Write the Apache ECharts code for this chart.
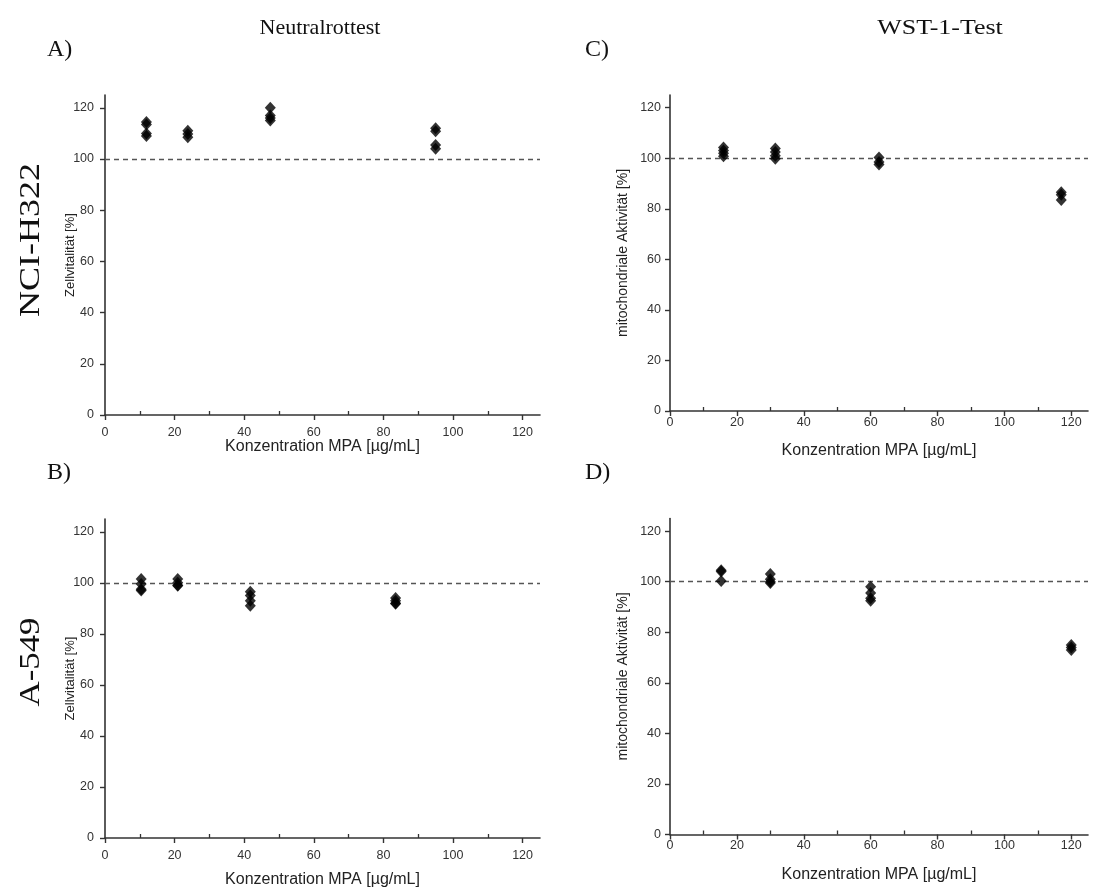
<!DOCTYPE html>
<html><head><meta charset="utf-8">
<script src="https://cdn.jsdelivr.net/npm/echarts@6/dist/echarts.min.js"></script>
<style>html,body{margin:0;padding:0;background:#fff}#c{width:1097px;height:889px}</style>
</head><body><div id="c"></div>
<script>
// ---- data ----
var concA = [11.9, 23.8, 47.5, 95];
var valA = [[114.5, 113.5, 110, 109], [111, 109.8, 108.5], [120, 117, 116, 115], [112, 110.8, 105.5, 104]];
var concB = [10.4, 20.9, 41.75, 83.5];
var valB = [[101.5, 99.5, 97.5, 97], [101.5, 100, 99, 98.8], [96.5, 95, 93, 91], [94, 93, 92, 91.8]];
var concC = [16, 31.5, 62.5, 117];
var valC = [[104.2, 103, 102, 100.8], [103.8, 102.5, 101, 99.8], [100.3, 98.5, 97.5], [86.5, 85.5, 83.5]];
var concD = [15.3, 30, 60, 120];
var valD = [[104.5, 104, 100.3], [103, 101, 100, 99.5], [98, 95.5, 93.5, 92.5], [75, 74, 73]];
var tickValues = [0, 20, 40, 60, 80, 100, 120];
var minorValues = [10, 30, 50, 70, 90, 110];
var xName = 'Konzentration MPA [µg/mL]';
var yNameLeft = 'Zellvitalität [%]';
var yNameRight = 'mitochondriale Aktivität [%]';
var colTitles = ['Neutralrottest', 'WST-1-Test'];
var rowTitles = ['NCI-H322', 'A-549'];
var panelLabels = ['A)', 'C)', 'B)', 'D)'];

function pts(conc, vals) {
  var out = [];
  conc.forEach(function (c, i) { vals[i].forEach(function (v) { out.push([c, v]); }); });
  return out;
}

// panel order: A, C, B, D
var grids = [
  {left: 105, top: 95, width: 435, height: 320},
  {left: 670, top: 95, width: 418, height: 316},
  {left: 105, top: 519, width: 435, height: 319},
  {left: 670, top: 518.5, width: 418, height: 316}
];
var panelData = [pts(concA, valA), pts(concC, valC), pts(concB, valB), pts(concD, valD)];
var yNames = [yNameLeft, yNameRight, yNameLeft, yNameRight];
var yGaps = [28, 40, 28, 40];
var yNameSizes = [13, 14, 13, 14];
var yMargins = [11, 9, 11, 9];
var xMargins = [11, 5, 11, 5];
var xGaps = [24, 32, 34, 32];

var axisColor = '#333';
var font = 'Liberation Sans, Arial, sans-serif';
var xAxes = [], yAxes = [], series = [];
grids.forEach(function (g, i) {
  xAxes.push({
    gridIndex: i, type: 'value', min: 0, max: 125, interval: 10,
    name: xName, nameLocation: 'middle', nameGap: xGaps[i], nameMoveOverlap: false,
    nameTextStyle: {fontFamily: font, fontSize: 16, color: '#222'},
    axisLine: {show: true, onZero: false, lineStyle: {color: axisColor, width: 1.6}},
    axisTick: {show: true, length: 5, customValues: tickValues, lineStyle: {color: axisColor, width: 1.4}},
    axisLabel: {customValues: tickValues, fontFamily: font, fontSize: 12.5, color: '#333', margin: xMargins[i]},
    splitLine: {show: false}
  });
  xAxes.push({
    gridIndex: i, type: 'value', min: 0, max: 125, position: 'bottom',
    axisLine: {show: false},
    axisTick: {show: true, inside: true, length: 4, customValues: minorValues, lineStyle: {color: axisColor, width: 1.3}},
    axisLabel: {show: false}, splitLine: {show: false}
  });
  yAxes.push({
    gridIndex: i, type: 'value', min: 0, max: 125, interval: 5,
    name: yNames[i], nameLocation: 'middle', nameGap: yGaps[i], nameRotate: 90, nameMoveOverlap: false,
    nameTextStyle: {fontFamily: font, fontSize: yNameSizes[i], color: '#222'},
    axisLine: {show: true, onZero: false, lineStyle: {color: axisColor, width: 1.6}},
    axisTick: {show: true, length: 5, customValues: tickValues, lineStyle: {color: axisColor, width: 1.4}},
    axisLabel: {customValues: tickValues, fontFamily: font, fontSize: 12.5, color: '#333', margin: yMargins[i]},
    splitLine: {show: false}
  });
  series.push({
    type: 'scatter', xAxisIndex: i * 2, yAxisIndex: i,
    symbol: 'diamond', symbolSize: [11, 12],
    itemStyle: {color: '#000'},
    data: panelData[i],
    markLine: {
      silent: true, symbol: 'none', label: {show: false},
      lineStyle: {color: '#555', type: [5, 4], width: 1.3},
      data: [{yAxis: 100}]
    },
    z: 5
  });
});

var serif = 'Liberation Serif, DejaVu Serif, serif';
function txt(s, x, y, size, rot, sx) {
  var o = {type: 'text', x: x, y: y, style: {text: s, font: size + 'px ' + serif, fill: '#111', textAlign: 'center', textVerticalAlign: 'middle'}};
  if (rot) o.rotation = rot;
  if (sx) o.scaleX = sx;
  return o;
}
var graphics = [
  txt(colTitles[0], 320, 28, 22),
  txt(colTitles[1], 940, 28, 22, 0, 1.18),
  {type: 'text', x: 47, y: 50, style: {text: panelLabels[0], font: '24px ' + serif, fill: '#111', textVerticalAlign: 'middle'}},
  {type: 'text', x: 585, y: 50, style: {text: panelLabels[1], font: '24px ' + serif, fill: '#111', textVerticalAlign: 'middle'}},
  {type: 'text', x: 47, y: 473, style: {text: panelLabels[2], font: '24px ' + serif, fill: '#111', textVerticalAlign: 'middle'}},
  {type: 'text', x: 585, y: 473, style: {text: panelLabels[3], font: '24px ' + serif, fill: '#111', textVerticalAlign: 'middle'}},
  txt(rowTitles[0], 31, 240, 30, Math.PI / 2, 1.2),
  txt(rowTitles[1], 31, 662, 30, Math.PI / 2, 1.16)
];

var chart = echarts.init(document.getElementById('c'), null, {renderer: 'canvas'});
chart.setOption({
  backgroundColor: '#fff',
  animation: false,
  grid: grids,
  xAxis: xAxes,
  yAxis: yAxes,
  series: series,
  graphic: graphics
});
</script></body></html>
